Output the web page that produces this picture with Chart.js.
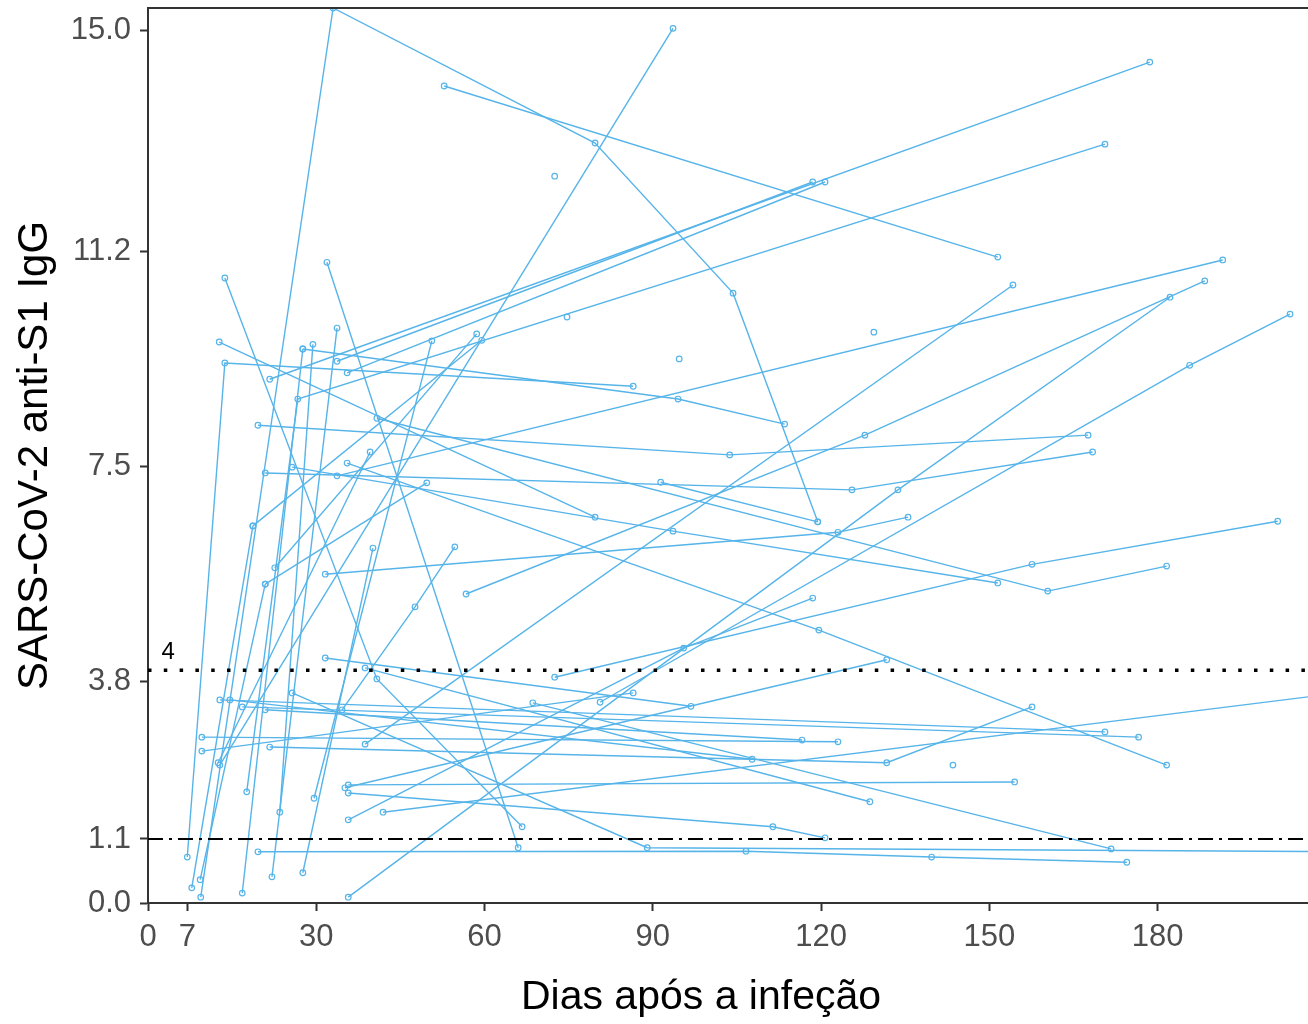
<!DOCTYPE html>
<html>
<head>
<meta charset="utf-8">
<script src="https://cdn.jsdelivr.net/npm/chart.js@4.4.1/dist/chart.umd.min.js"></script>
<style>
  html, body { margin: 0; padding: 0; background: #fff; overflow: hidden; }
  #wrap { width: 1308px; height: 1024px; }
  canvas { display: block; }
</style>
</head>
<body>
<div id="wrap"><canvas id="chart" width="1308" height="1024"></canvas></div>
<script>
// Follow-up days for each participant (one inner array per participant)
const followUpDays = [
  [9.4, 33.0, 79.7, 104.3, 119.4],
  [52.8, 151.5],
  [12.8, 93.6],
  [21.7, 178.6],
  [17.6, 26.7, 170.6],
  [33.7, 118.5],
  [35.5, 120.7],
  [33.7, 191.6],
  [35.7, 133.7, 182.2],
  [38.7, 154.2],
  [56.7, 127.8, 188.4],
  [80.6, 185.7, 203.6],
  [72.5, 157.6, 201.4],
  [40.8, 160.4, 181.6],
  [12.7, 79.7],
  [25.7, 93.6, 151.5],
  [7.0, 13.7, 86.5],
  [27.6, 94.5, 113.5],
  [19.6, 103.7, 167.6],
  [20.9, 125.5, 168.4],
  [31.6, 123.0, 135.5],
  [91.4, 119.4],
  [35.7, 95.5, 118.5],
  [35.5, 119.6, 181.6],
  [41.9, 215],
  [68.6, 171.7],
  [25.7, 89.0, 215],
  [35.7, 111.4, 120.7],
  [19.6, 106.6, 139.7, 174.5],
  [35.7, 154.5],
  [13.7, 40.8, 66.7],
  [16.8, 176.6],
  [21.7, 131.7, 157.6],
  [35.1, 131.7],
  [20.9, 116.6],
  [9.6, 123.0],
  [14.6, 107.7],
  [38.7, 128.7],
  [9.6, 86.5],
  [31.6, 96.8],
  [34.6, 47.6, 54.7],
  [31.9, 66.0],
  [12.8, 170.6],
  [72.5], [94.7], [129.4], [143.5], [74.7],
  [7.8, 18.7],
  [9.3, 20.9],
  [16.8, 27.6],
  [22.1, 33.7],
  [27.6, 40.1],
  [23.5, 29.4],
  [29.6, 50.6],
  [20.9, 49.7],
  [22.6, 58.6],
  [18.7, 59.5],
  [12.5, 39.6]
];

// anti-S1 IgG ratio, same layout as followUpDays
const igG = [
  [0.10, 15.38, 13.06, 10.48, 6.55],
  [14.04, 11.10],
  [2.37, 15.03],
  [9.00, 14.45],
  [1.91, 8.66, 13.04],
  [9.31, 12.39],
  [9.11, 12.39],
  [7.34, 11.05],
  [0.10, 7.10, 10.41],
  [2.73, 10.62],
  [5.31, 8.04, 10.69],
  [3.45, 9.24, 10.12],
  [3.88, 5.82, 6.56],
  [8.33, 5.36, 5.79],
  [9.64, 6.63],
  [7.49, 6.39, 5.50],
  [0.79, 9.28, 8.88],
  [9.52, 8.66, 8.23],
  [8.21, 7.70, 8.04],
  [7.39, 7.10, 7.75],
  [5.65, 6.37, 6.63],
  [7.23, 6.55],
  [1.43, 4.38, 5.24],
  [7.56, 4.69, 2.37],
  [1.56, 3.64],
  [3.44, 0.93],
  [3.61, 0.95, 0.88],
  [1.89, 1.31, 1.12],
  [0.88, 0.89, 0.79, 0.70],
  [2.03, 2.08],
  [10.74, 3.85, 1.31],
  [3.37, 2.85],
  [2.68, 2.41, 3.37],
  [1.98, 4.18],
  [3.32, 2.80],
  [2.85, 2.77],
  [3.49, 2.47],
  [4.04, 1.74],
  [2.61, 3.61],
  [4.21, 3.38],
  [3.32, 5.09, 6.12],
  [11.01, 0.95],
  [3.49, 2.94],
  [12.49], [9.35], [9.81], [2.37], [10.07],
  [0.26, 6.48],
  [0.40, 5.48],
  [0.17, 9.52],
  [0.45, 9.88],
  [0.52, 6.10],
  [1.56, 9.60],
  [1.80, 9.66],
  [5.48, 7.22],
  [5.76, 9.78],
  [6.48, 9.67],
  [2.41, 7.75]
];

const xTicks = [0, 7, 30, 60, 90, 120, 150, 180];
const yTicks = [0.0, 1.1, 3.8, 7.5, 11.2, 15.0];
const cutoffPositive = 4;     // dotted line
const cutoffBorderline = 1.1; // dash-dot line
const xRange = [0, 206.8];
const yRange = [0, 15.38];

const xTitle = 'Dias após a infeção';
const yTitle = 'SARS-CoV-2 anti-S1 IgG';

const lineBlue = '#56B4E9';
const axisGrey = '#333333';
const fontFamily = '"Liberation Sans", Arial, sans-serif';
Chart.defaults.font.family = fontFamily;

// One dataset per participant
const subjectSets = followUpDays.map((days, i) => ({
  data: days.map((d, j) => ({ x: d, y: igG[i][j] })),
  showLine: true,
  borderColor: lineBlue,
  borderWidth: 1.4,
  pointRadius: 2.8,
  pointBorderWidth: 1.2,
  pointBorderColor: lineBlue,
  pointBackgroundColor: 'rgba(0,0,0,0)',
  order: 1
}));

// Horizontal reference lines
const cutoffSets = [
  {
    data: [{ x: xRange[0], y: cutoffPositive }, { x: xRange[1], y: cutoffPositive }],
    showLine: true, borderColor: '#000', borderWidth: 3.5,
    borderDash: [3.5, 12.3], pointRadius: 0, order: 0
  },
  {
    data: [{ x: xRange[0], y: cutoffBorderline }, { x: xRange[1], y: cutoffBorderline }],
    showLine: true, borderColor: '#000', borderWidth: 1.8,
    borderDash: [15, 6, 3, 6], pointRadius: 0, order: 0
  }
];

// Extra text and the top frame line
const extras = {
  id: 'extras',
  afterDraw(chart) {
    const { ctx, chartArea, scales: { x, y } } = chart;
    ctx.save();
    ctx.strokeStyle = axisGrey;
    ctx.lineWidth = 2;
    ctx.beginPath();
    ctx.moveTo(chartArea.left, chartArea.top);
    ctx.lineTo(chartArea.right, chartArea.top);
    ctx.stroke();

    ctx.fillStyle = '#000';
    ctx.textAlign = 'center';
    ctx.textBaseline = 'alphabetic';
    ctx.font = '24px ' + fontFamily;
    ctx.fillText(String(cutoffPositive), x.getPixelForValue(3.6), y.getPixelForValue(cutoffPositive) - 11);

    ctx.textBaseline = 'middle';
    ctx.font = '41px ' + fontFamily;
    ctx.fillText(xTitle, 701, 998);
    ctx.restore();
  }
};

const tickFont = { size: 31 };
const noPadding = scale => {
  scale.paddingTop = 0;
  scale.paddingBottom = 0;
  scale.paddingLeft = 0;
  scale.paddingRight = 0;
};

new Chart(document.getElementById('chart'), {
  type: 'scatter',
  data: { datasets: subjectSets.concat(cutoffSets) },
  options: {
    responsive: false,
    animation: false,
    layout: { autoPadding: false, padding: { top: 8, right: 0, left: 0, bottom: 0 } },
    plugins: { legend: { display: false }, tooltip: { enabled: false } },
    scales: {
      x: {
        type: 'linear',
        min: xRange[0],
        max: xRange[1],
        afterBuildTicks: scale => { scale.ticks = xTicks.map(v => ({ value: v })); },
        afterFit: scale => { scale.height = 121; noPadding(scale); },
        ticks: { font: tickFont, color: '#4D4D4D', padding: 8, maxRotation: 0, autoSkip: false,
                 callback: v => String(v) },
        grid: { drawOnChartArea: false, tickLength: 8, tickWidth: 2, tickColor: axisGrey },
        border: { display: true, color: axisGrey, width: 2 }
      },
      y: {
        type: 'linear',
        min: yRange[0],
        max: yRange[1],
        afterBuildTicks: scale => { scale.ticks = yTicks.map(v => ({ value: v })); },
        afterFit: scale => { scale.width = 148; noPadding(scale); },
        ticks: { font: tickFont, color: '#4D4D4D', padding: 9, autoSkip: false,
                 callback: v => Number(v).toFixed(1) },
        grid: { drawOnChartArea: false, tickLength: 8, tickWidth: 2, tickColor: axisGrey },
        border: { display: true, color: axisGrey, width: 2 },
        title: { display: true, text: yTitle, color: '#000', font: { size: 42 }, padding: { top: 10, bottom: 0 } }
      }
    }
  },
  plugins: [extras]
});
</script>
</body>
</html>
